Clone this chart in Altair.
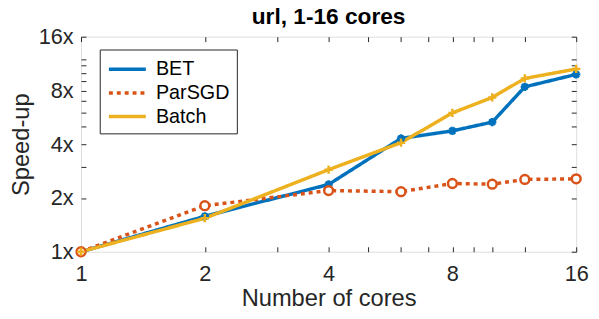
import altair as alt
import pandas as pd

cores = [1, 2, 4, 6, 8, 10, 12, 16]
bet = [1.0, 1.58, 2.38, 4.31, 4.75, 5.32, 8.38, 9.84]
parsgd = [1.0, 1.81, 2.2, 2.17, 2.41, 2.39, 2.54, 2.56]
batch = [1.0, 1.54, 2.88, 4.08, 5.99, 7.31, 9.34, 10.55]
series_names = ["BET", "ParSGD", "Batch"]
colors = ["#0072BD", "#D95319", "#EDB120"]
dashes = [[1, 0], [4, 4], [1, 0]]
x_major = [1, 2, 4, 8, 16]
x_minor = [3, 5, 6, 7, 9, 10, 12]
y_major = [1, 2, 4, 8, 16]
y_minor = [3, 5, 6, 7, 9, 10, 11, 12]

asterisk = "M-1,0L1,0M0,-1L0,1M-0.7,-0.7L0.7,0.7M-0.7,0.7L0.7,-0.7"
plus = "M-1,0L1,0M0,-1L0,1"
shapes = [asterisk, "circle", plus]
marker_sizes = [70, 80, 70]

rows = []
for k, (name, vals) in enumerate(zip(series_names, [bet, parsgd, batch])):
    for i, (c, v) in enumerate(zip(cores, vals)):
        rows.append({"cores": c, "speedup": v, "series": name, "order": i})
df = pd.DataFrame(rows)

FONT = "Liberation Sans"
TXT = "#262626"

xscale = alt.Scale(type="log", base=2, domain=[1, 16], nice=False)
yscale = alt.Scale(type="log", base=2, domain=[1, 16], nice=False)

x_lab = "indexof([1,2,4,8,16], datum.value) >= 0 ? '' + datum.value : ''"
y_lab = "indexof([1,2,4,8,16], datum.value) >= 0 ? datum.value + 'x' : ''"

common_axis = dict(offset=-5, tickSize=5, domain=False, grid=False,
                   tickColor=TXT, labelColor=TXT, labelFont=FONT,
                   labelFontSize=22, labelOverlap=False, titleFont=FONT,
                   titleFontSize=24, titleFontWeight="normal", titleColor=TXT)

color_scale = alt.Scale(domain=series_names, range=colors)

lines = alt.Chart(df).mark_line(strokeWidth=3.5).encode(
    x=alt.X("cores:Q", scale=xscale,
            axis=alt.Axis(orient="bottom", values=x_major + x_minor, labelExpr=x_lab,
                          title="Number of cores", labelPadding=12, labelFlush=False,
                          titlePadding=3, **common_axis)),
    y=alt.Y("speedup:Q", scale=yscale,
            axis=alt.Axis(orient="left", values=y_major + y_minor, labelExpr=y_lab,
                          title="Speed-up", labelPadding=8, titlePadding=5, **common_axis)),
    color=alt.Color("series:N", scale=color_scale, sort=series_names,
                    legend=alt.Legend(title=None, orient="none", legendX=19, legendY=13,
                                      symbolType="M-1.7,0L1.7,0", symbolSize=484,
                                      symbolOffset=8, symbolStrokeWidth=3.5,
                                      labelFont=FONT, labelFontSize=20, labelColor="#000",
                                      strokeColor="#262626", fillColor="white",
                                      padding=7, rowPadding=1, labelOffset=16)),
    strokeDash=alt.StrokeDash("series:N", scale=alt.Scale(domain=series_names, range=dashes),
                              sort=series_names, legend=alt.Legend(title=None)),
    detail="series:N",
    order="order:Q",
)

point_layers = []
for k, name in enumerate(series_names):
    if k == 0:
        xenc = alt.X("cores:Q", scale=xscale,
                     axis=alt.Axis(orient="top", values=x_major + x_minor, labels=False,
                                   title=None, **common_axis))
        yenc = alt.Y("speedup:Q", scale=yscale,
                     axis=alt.Axis(orient="right", values=y_major + y_minor, labels=False,
                                   title=None, **common_axis))
    else:
        xenc = alt.X("cores:Q", scale=xscale, axis=None)
        yenc = alt.Y("speedup:Q", scale=yscale, axis=None)
    point_layers.append(
        alt.Chart(df).transform_filter(alt.datum.series == name).mark_point(
            shape=shapes[k], color=colors[k], filled=False, fill="white",
            strokeWidth=2.5, size=marker_sizes[k], opacity=1
        ).encode(x=xenc, y=yenc)
    )

chart = alt.layer(lines, *point_layers).resolve_axis(x="independent", y="independent").resolve_scale(
    x="shared", y="shared"
).properties(
    width=502, height=218,
    title=alt.TitleParams("url, 1-16 cores", fontSize=23, fontWeight="bold", font=FONT,
                          color="#000", offset=-3),
    autosize=alt.AutoSizeParams(type="none"),
    padding={"left": 74, "top": 27, "right": 15, "bottom": 58},
).configure_view(stroke=TXT, strokeWidth=1).configure(background="white")

chart.save("out.html", embed_options={"renderer": "svg", "actions": False})
